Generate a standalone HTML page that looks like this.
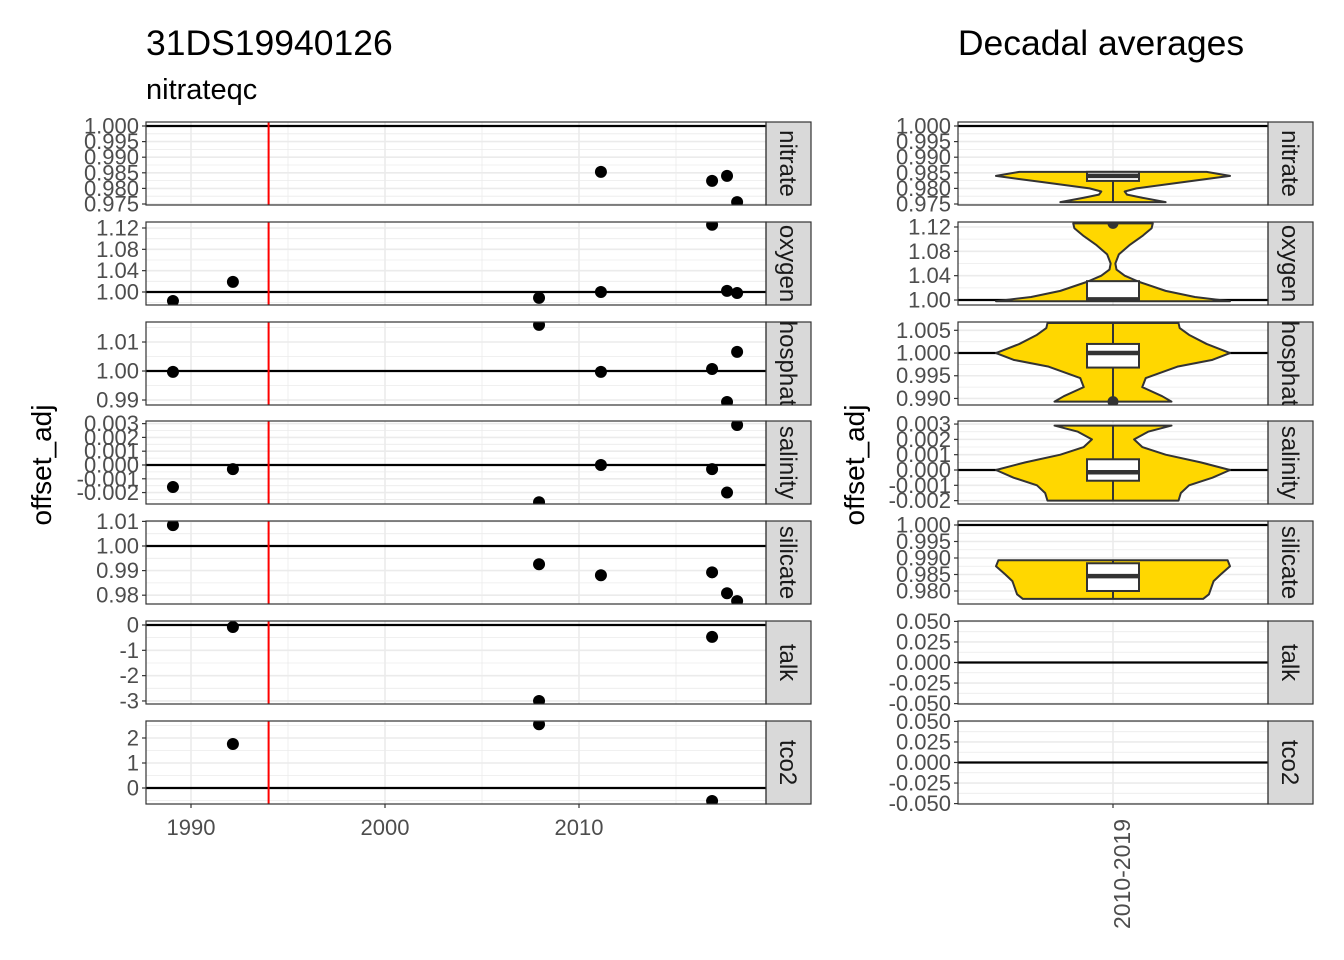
<!DOCTYPE html>
<html><head><meta charset="utf-8">
<style>
html,body{margin:0;padding:0;background:#fff;}
svg{display:block;font-family:"Liberation Sans",sans-serif;}
</style></head>
<body>
<svg id="chart" width="1344" height="960" viewBox="0 0 1344 960">
<rect width="1344" height="960" fill="#fff"/>
<text x="146" y="55" font-size="35.5" fill="#000">31DS19940126</text>
<text x="146" y="99" font-size="29" fill="#000">nitrateqc</text>
<text x="1101" y="55" font-size="35.5" fill="#000" text-anchor="middle">Decadal averages</text>
<text transform="translate(51,465) rotate(-90)" font-size="28" text-anchor="middle" fill="#000">offset_adj</text>
<text transform="translate(864,465) rotate(-90)" font-size="28" text-anchor="middle" fill="#000">offset_adj</text>
<g id="layer"></g>
</svg>
<script>
// ---- data ----
const panelNames = ["nitrate","oxygen","phosphate","salinity","silicate","talk","tco2"];
const refValues = [1,1,1,0,1,0,0];
const leftDomains = [[0.97468,1.00128],[0.9756,1.13125],[0.98828,1.0169],[-0.00283,0.00319],[0.97642,1.01016],[-3.12,0.158],[-0.64,2.68]];
const leftTicks = [[0.975,0.98,0.985,0.99,0.995,1.0],[1.0,1.04,1.08,1.12],[0.99,1.0,1.01],[-0.002,-0.001,0,0.001,0.002,0.003],[0.98,0.99,1.0,1.01],[-3,-2,-1,0],[0,1,2]];
const leftTickLabels = [["0.975","0.980","0.985","0.990","0.995","1.000"],["1.00","1.04","1.08","1.12"],["0.99","1.00","1.01"],["-0.002","-0.001","0.000","0.001","0.002","0.003"],["0.98","0.99","1.00","1.01"],["-3","-2","-1","0"],["0","1","2"]];
const years = [1989.07,1992.16,2007.94,2011.13,2016.86,2017.63,2018.15];
const nitrateVals = [null,null,null,0.9853,0.9824,0.984,0.9756];
const oxygenVals = [0.983,1.019,0.989,1.0,1.126,1.002,0.998];
const phosphateVals = [0.9997,null,1.0159,0.9997,1.0007,0.9893,1.0066];
const salinityVals = [-0.0016,-0.0003,-0.0027,0,-0.0003,-0.002,0.0029];
const silicateVals = [1.0085,null,0.9926,0.9881,0.9893,0.9808,0.9776];
const talkVals = [null,-0.08,-3.0,null,-0.47,null,null];
const tco2Vals = [null,1.76,2.55,null,-0.52,null,null];
const seriesVals = [nitrateVals,oxygenVals,phosphateVals,salinityVals,silicateVals,talkVals,tco2Vals];
const xTicks = [1990,2000,2010];
const xMinor = [1995,2005,2015];
const cruiseYear = 1994;

const rightDomains = [[0.97468,1.00128],[0.9918,1.1282],[0.98856,1.00683],[-0.00222,0.0032],[0.97606,1.00121],[-0.0505,0.0505],[-0.0505,0.0505]];
const rightTicks = [[0.975,0.98,0.985,0.99,0.995,1.0],[1.0,1.04,1.08,1.12],[0.99,0.995,1.0,1.005],[-0.002,-0.001,0,0.001,0.002,0.003],[0.98,0.985,0.99,0.995,1.0],[-0.05,-0.025,0,0.025,0.05],[-0.05,-0.025,0,0.025,0.05]];
const rightTickLabels = [["0.975","0.980","0.985","0.990","0.995","1.000"],["1.00","1.04","1.08","1.12"],["0.990","0.995","1.000","1.005"],["-0.002","-0.001","0.000","0.001","0.002","0.003"],["0.980","0.985","0.990","0.995","1.000"],["-0.050","-0.025","0.000","0.025","0.050"],["-0.050","-0.025","0.000","0.025","0.050"]];
const decadeLabel = "2010-2019";
// violin profiles: [value, relative density]
const violinNitrate = [[0.9756,0.45],[0.977,0.25],[0.978,0.12],[0.979,0.1],[0.980,0.2],[0.982,0.6],[0.984,1.0],[0.9853,0.8]];
const violinOxygen = [[0.998,1.0],[1.005,0.7],[1.015,0.45],[1.03,0.22],[1.04,0.1],[1.05,0.03],[1.06,0.02],[1.075,0.05],[1.09,0.14],[1.105,0.25],[1.118,0.33],[1.126,0.34]];
const violinPhosphate = [[0.9893,0.5],[0.9905,0.42],[0.9925,0.25],[0.9945,0.28],[0.997,0.55],[0.9985,0.85],[1.0,1.0],[1.002,0.8],[1.004,0.65],[1.0055,0.57],[1.0066,0.56]];
const violinSalinity = [[-0.002,0.56],[-0.0015,0.58],[-0.001,0.65],[-0.0005,0.85],[0,1.0],[0.0005,0.75],[0.001,0.45],[0.0015,0.25],[0.002,0.18],[0.0025,0.3],[0.0029,0.5]];
const violinSilicate = [[0.9776,0.77],[0.979,0.82],[0.981,0.84],[0.983,0.86],[0.985,0.92],[0.9875,1.0],[0.9893,0.98]];
const violins = [violinNitrate,violinOxygen,violinPhosphate,violinSalinity,violinSilicate,null,null];
// box stats: [whiskerLow, q1, median, q3, whiskerHigh]
const boxNitrate = [0.9756,0.9824,0.984,0.9853,0.9853];
const boxOxygen = [0.998,0.9995,1.001,1.031,1.031];
const boxPhosphate = [0.9893,0.9968,1.0,1.002,1.0066];
const boxSalinity = [-0.002,-0.0007,-0.00015,0.0007,0.0029];
const boxSilicate = [0.9776,0.980,0.9845,0.9884,0.9893];
const boxes = [boxNitrate,boxOxygen,boxPhosphate,boxSalinity,boxSilicate,null,null];
const outlierOxygen = [1.126];
const outlierPhosphate = [0.9893];
const outliers = [[],outlierOxygen,outlierPhosphate,[],[],[],[]];

// ---- layout ----
const NS="http://www.w3.org/2000/svg";
const layer=document.getElementById('layer');
const panelTops=[122,222,322,421,521,621,721];
const PH=83;
const L={x0:146,x1:766}, R={x0:958,x1:1268};
const STRIPW=45;
const xLeft=v=>191+(v-1990)*19.4;
const cx=1113, violinHalf=117, boxHalf=26;
function el(tag,attrs,parent){const e=document.createElementNS(NS,tag);for(const k in attrs)e.setAttribute(k,attrs[k]);(parent||layer).appendChild(e);return e;}
function yScale(dom,top){return v=>top+PH-(v-dom[0])/(dom[1]-dom[0])*PH;}

const defs=el('defs',{});
function drawFrame(i,P,ticks,labels,dom,side){
  const top=panelTops[i], y=yScale(dom,top);
  const g=el('g',{});
  
  
  const cpid='cp-'+side+i;
  const cp=el('clipPath',{id:cpid},defs); el('rect',{x:P.x0,y:top,width:P.x1-P.x0,height:PH},cp);
  el('rect',{x:P.x0,y:top,width:P.x1-P.x0,height:PH,fill:'#fff'},g);
  const gg=el('g',{'clip-path':'url(#'+cpid+')'},g);
  const step=ticks.length>1?ticks[1]-ticks[0]:1;
  for(let k=-1;k<ticks.length;k++){const m=ticks[0]+(k+0.5)*step;el('line',{x1:P.x0,x2:P.x1,y1:y(m),y2:y(m),stroke:'#ebebeb','stroke-width':0.8},gg);}
  ticks.forEach((t,k)=>{
    el('line',{x1:P.x0,x2:P.x1,y1:y(t),y2:y(t),stroke:'#ebebeb','stroke-width':1.6},gg);
    el('line',{x1:P.x0-4,x2:P.x0,y1:y(t),y2:y(t),stroke:'#333','stroke-width':1.2},g);
    const tx=el('text',{x:P.x0-7,y:y(t)+7.5,'font-size':22,'text-anchor':'end',fill:'#4d4d4d'},g);
    tx.textContent=labels[k];
    
    
  });
  if(side==='left'){
    xMinor.forEach(v=>el('line',{x1:xLeft(v),x2:xLeft(v),y1:top,y2:top+PH,stroke:'#ebebeb','stroke-width':0.8},gg));
    xTicks.forEach(v=>el('line',{x1:xLeft(v),x2:xLeft(v),y1:top,y2:top+PH,stroke:'#ebebeb','stroke-width':1.6},gg));
  } else {
    el('line',{x1:cx,x2:cx,y1:top,y2:top+PH,stroke:'#ebebeb','stroke-width':1.6},gg);
  }
  // strip
  const sx=P.x1;
  const scp='scp-'+side+i;
  const cp2=el('clipPath',{id:scp},defs); el('rect',{x:sx,y:top,width:STRIPW,height:PH},cp2);
  el('rect',{x:sx,y:top,width:STRIPW,height:PH,fill:'#d9d9d9',stroke:'#333','stroke-width':1.2},g);
  const sg=el('g',{'clip-path':'url(#'+scp+')'},g);
  const st=el('text',{transform:'translate('+(sx+STRIPW/2-8.5)+','+(top+PH/2)+') rotate(90)','font-size':24,'text-anchor':'middle',fill:'#1a1a1a'},sg);
  st.textContent=panelNames[i];
  
  
  return {g:gg,y,top,frame:g};
}
function border(P,top,g){el('rect',{x:P.x0,y:top,width:P.x1-P.x0,height:PH,fill:'none',stroke:'#333','stroke-width':1.2},g);}

for(let i=0;i<7;i++){
  const f=drawFrame(i,L,leftTicks[i],leftTickLabels[i],leftDomains[i],'left');
  const hl=el('line',{x1:L.x0,x2:L.x1,y1:f.y(refValues[i]),y2:f.y(refValues[i]),stroke:'#000','stroke-width':2.2},f.g);
  
  
  const rl=el('line',{x1:xLeft(cruiseYear),x2:xLeft(cruiseYear),y1:f.top,y2:f.top+PH,stroke:'#ff0000','stroke-width':2},f.g);
  
  
  seriesVals[i].forEach((v,k)=>{
    if(v===null)return;
    const c=el('circle',{cx:xLeft(years[k]),cy:f.y(v),r:6,fill:'#000'},f.g);
    
    
  });
  border(L,f.top,f.frame);
  const r=drawFrame(i,R,rightTicks[i],rightTickLabels[i],rightDomains[i],'right');
  const hr=el('line',{x1:R.x0,x2:R.x1,y1:r.y(refValues[i]),y2:r.y(refValues[i]),stroke:'#000','stroke-width':2.2},r.g);
  
  
  const vp=violins[i];
  if(vp){
    const rightSide=vp.map(p=>(cx+p[1]*violinHalf)+','+r.y(p[0]));
    const leftSide=vp.slice().reverse().map(p=>(cx-p[1]*violinHalf)+','+r.y(p[0]));
    const vpath=el('polygon',{points:rightSide.concat(leftSide).join(' '),fill:'#ffd700',stroke:'#333','stroke-width':2,'stroke-linejoin':'round'},r.g);
    
    
    const b=boxes[i];
    el('line',{x1:cx,x2:cx,y1:r.y(b[0]),y2:r.y(b[4]),stroke:'#333','stroke-width':2},r.g);
    const br=el('rect',{x:cx-boxHalf,y:r.y(b[3]),width:boxHalf*2,height:r.y(b[1])-r.y(b[3]),fill:'#fff',stroke:'#333','stroke-width':2},r.g);
    
    
    el('line',{x1:cx-boxHalf,x2:cx+boxHalf,y1:r.y(b[2]),y2:r.y(b[2]),stroke:'#333','stroke-width':4.5},r.g);
    outliers[i].forEach(v=>{
      const o=el('circle',{cx:cx,cy:r.y(v),r:5.5,fill:'#333'},r.g);
      
      
    });
  }
  border(R,r.top,r.frame);
}
const axY=panelTops[6]+PH;
xTicks.forEach(v=>{
  el('line',{x1:xLeft(v),x2:xLeft(v),y1:axY,y2:axY+4,stroke:'#333','stroke-width':1.2});
  const t=el('text',{x:xLeft(v),y:axY+31,'font-size':22,'text-anchor':'middle',fill:'#4d4d4d'});
  t.textContent=String(v);
  
  
});
el('line',{x1:cx,x2:cx,y1:axY,y2:axY+4,stroke:'#333','stroke-width':1.2});
const dl=el('text',{transform:'translate('+(cx+17)+','+(axY+15)+') rotate(-90)','font-size':23,'text-anchor':'end',fill:'#4d4d4d'});
dl.textContent=decadeLabel;


</script>
</body></html>
